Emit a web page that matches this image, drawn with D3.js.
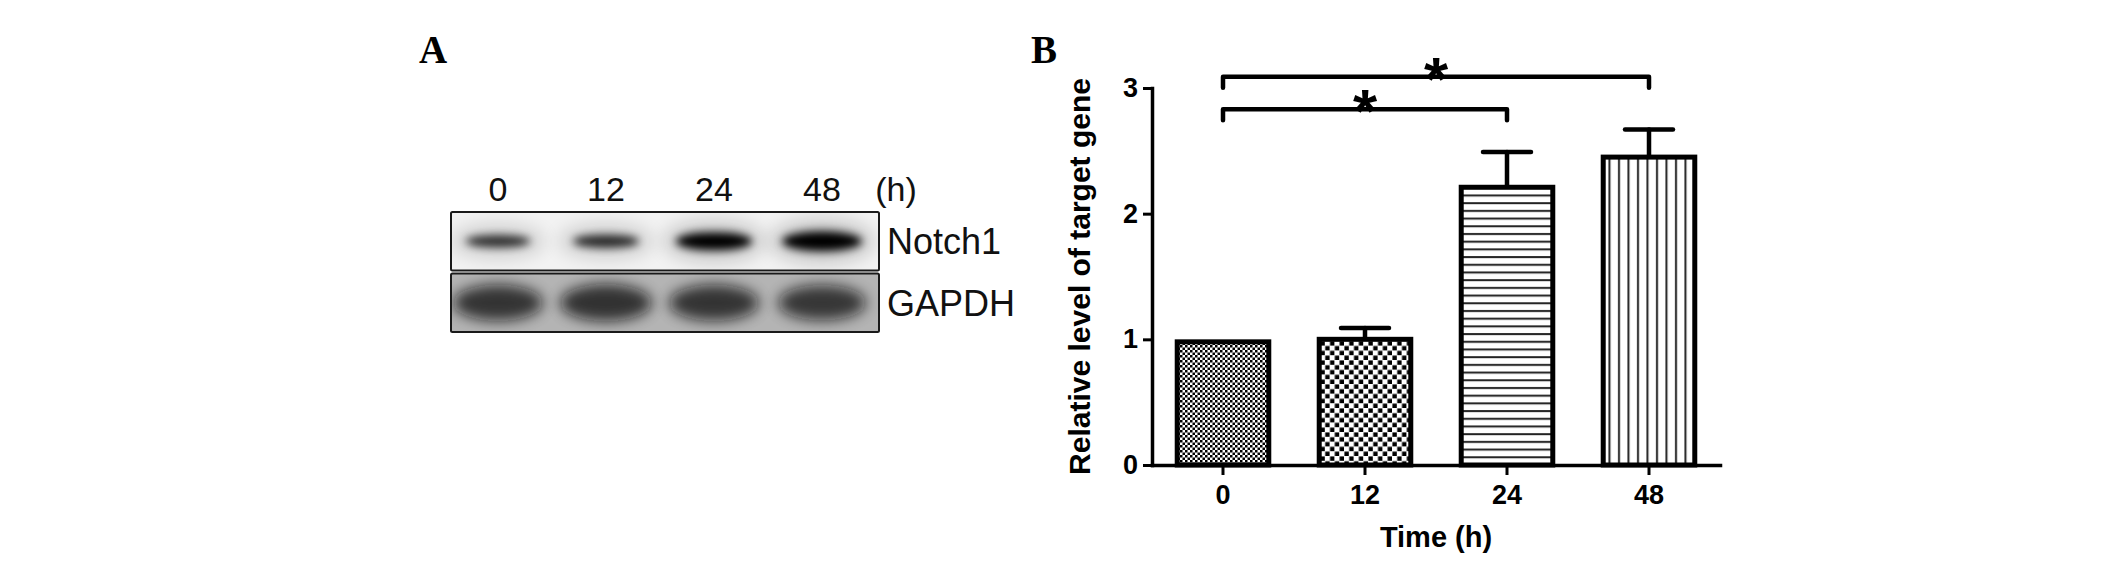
<!DOCTYPE html>
<html><head><meta charset="utf-8">
<script src="https://cdn.jsdelivr.net/npm/d3@7"></script>
<style>html,body{margin:0;padding:0;background:#fff}svg{display:block}</style>
</head><body>
<script>
// ---------- data ----------
const lanes = ["0", "12", "24", "48"];
const blotRows = ["Notch1", "GAPDH"];
const notch1Intensity = [0.58, 0.62, 0.9, 1.0];
const gapdhIntensity = [0.9, 0.92, 0.9, 0.88];

const timeCategories = ["0", "12", "24", "48"];
const relativeLevel = [1.0, 1.02, 2.23, 2.47];
const errorSD = [0, 0.07, 0.26, 0.20];
const yTicks = [0, 1, 2, 3];
const comparisons = [
  { from: "0", to: "24", level: 2.83, label: "*" },
  { from: "0", to: "48", level: 3.09, label: "*" }
];

// ---------- setup ----------
const W = 2126, H = 566;
const svg = d3.select("body").append("svg").attr("width", W).attr("height", H);
const defs = svg.append("defs");
const SANS = "'Liberation Sans', Arial, Helvetica, sans-serif";
const SERIF = "'Liberation Serif', 'Times New Roman', serif";

// panel letters
svg.append("text").attr("x", 419).attr("y", 63).text("A")
  .attr("font-family", SERIF).attr("font-weight", "bold").attr("font-size", 39);
svg.append("text").attr("x", 1031).attr("y", 63).text("B")
  .attr("font-family", SERIF).attr("font-weight", "bold").attr("font-size", 39);

// ---------- panel A : western blot ----------
const lane = d3.scalePoint().domain(lanes).range([498, 822]);
const rowY = d3.scaleBand().domain(blotRows).range([212, 332]).paddingInner(0.05);

defs.append("filter").attr("id", "blurS").attr("x", "-50%").attr("y", "-100%").attr("width", "200%").attr("height", "300%")
  .append("feGaussianBlur").attr("stdDeviation", 4);
defs.append("filter").attr("id", "blurM").attr("x", "-50%").attr("y", "-100%").attr("width", "200%").attr("height", "300%")
  .append("feGaussianBlur").attr("stdDeviation", 9);
defs.append("filter").attr("id", "blurL").attr("x", "-50%").attr("y", "-100%").attr("width", "200%").attr("height", "300%")
  .append("feGaussianBlur").attr("stdDeviation", 7);

const boxX = 451, boxW = 428;
blotRows.forEach((row, ri) => {
  const y0 = rowY(row), h = rowY.bandwidth();
  const cid = "clip" + ri;
  defs.append("clipPath").attr("id", cid).append("rect")
    .attr("x", boxX).attr("y", y0).attr("width", boxW).attr("height", h);
  const g = svg.append("g").attr("clip-path", `url(#${cid})`);
  g.append("rect").attr("x", boxX).attr("y", y0).attr("width", boxW).attr("height", h)
    .attr("fill", ri === 0 ? "#f2f2f2" : "#b4b4b4");
  const cy = y0 + h / 2;
  if (ri === 0) {
    g.selectAll("ellipse.haze").data(notch1Intensity).join("ellipse")
      .attr("cx", (d, i) => lane(lanes[i])).attr("cy", cy)
      .attr("rx", d => 40 + 12 * d).attr("ry", d => 10 + 12 * d)
      .attr("fill", "#000").attr("opacity", d => 0.08 + 0.1 * d)
      .attr("filter", "url(#blurM)");
    g.selectAll("ellipse.band").data(notch1Intensity).join("ellipse")
      .attr("cx", (d, i) => lane(lanes[i])).attr("cy", cy)
      .attr("rx", d => 22 + 18 * d).attr("ry", d => 1 + 9 * d)
      .attr("fill", "#000").attr("opacity", d => Math.min(1, 0.35 + 0.75 * d))
      .attr("filter", "url(#blurS)");
  } else {
    g.selectAll("ellipse.band").data(gapdhIntensity).join("ellipse")
      .attr("cx", (d, i) => lane(lanes[i])).attr("cy", cy)
      .attr("rx", d => 50 * d).attr("ry", d => 20 * d)
      .attr("fill", "#111").attr("opacity", d => 0.85 * d)
      .attr("filter", "url(#blurL)");
  }
  svg.append("rect").attr("x", boxX).attr("y", y0).attr("width", boxW).attr("height", h)
    .attr("fill", "none").attr("stroke", "#1a1a1a").attr("stroke-width", 2).attr("rx", 1.5);
  svg.append("text").attr("x", 887).attr("y", y0 + h / 2 + 13).text(row)
    .attr("font-family", SANS).attr("font-size", 36).attr("fill", "#111");
});

svg.selectAll("text.lane").data(lanes).join("text")
  .attr("x", d => lane(d)).attr("y", 201).attr("text-anchor", "middle")
  .attr("font-family", SANS).attr("font-size", 34).attr("fill", "#111").text(d => d);
svg.append("text").attr("x", 896).attr("y", 201).attr("text-anchor", "middle")
  .attr("font-family", SANS).attr("font-size", 34).attr("fill", "#111").text("(h)");

// ---------- panel B : bar chart ----------
const x = d3.scaleBand().domain(timeCategories).range([1152, 1720]).paddingInner(0.32).paddingOuter(0.16);
const y = d3.scaleLinear().domain([0, 3]).range([465, 88]);

// patterns
const p0 = defs.append("pattern").attr("id", "pat0").attr("patternUnits", "userSpaceOnUse").attr("width", 5).attr("height", 5);
p0.append("rect").attr("width", 5).attr("height", 5).attr("fill", "#fff");
p0.append("rect").attr("width", 2.5).attr("height", 2.5).attr("fill", "#000");
p0.append("rect").attr("x", 2.5).attr("y", 2.5).attr("width", 2.5).attr("height", 2.5).attr("fill", "#000");
const p1 = defs.append("pattern").attr("id", "pat1").attr("patternUnits", "userSpaceOnUse").attr("width", 9.6).attr("height", 9.6);
p1.append("rect").attr("width", 9.6).attr("height", 9.6).attr("fill", "#fff");
p1.append("rect").attr("x", 0.4).attr("y", 0.4).attr("width", 4.4).attr("height", 4.4).attr("fill", "#000");
p1.append("rect").attr("x", 5.2).attr("y", 5.2).attr("width", 4.4).attr("height", 4.4).attr("fill", "#000");
const p2 = defs.append("pattern").attr("id", "pat2").attr("patternUnits", "userSpaceOnUse").attr("width", 10).attr("height", 7.7);
p2.append("rect").attr("width", 10).attr("height", 7.7).attr("fill", "#fff");
p2.append("rect").attr("y", 2).attr("width", 10).attr("height", 2).attr("fill", "#222");
const p3 = defs.append("pattern").attr("id", "pat3").attr("patternUnits", "userSpaceOnUse").attr("width", 9.5).attr("height", 10);
p3.append("rect").attr("width", 9.5).attr("height", 10).attr("fill", "#fff");
p3.append("rect").attr("x", 3).attr("width", 2).attr("height", 10).attr("fill", "#222");

const bw = 5;
svg.append("g").selectAll("rect").data(timeCategories).join("rect")
  .attr("x", d => x(d) + bw / 2).attr("width", x.bandwidth() - bw)
  .attr("y", (d, i) => y(relativeLevel[i]) + bw / 2)
  .attr("height", (d, i) => y(0) - y(relativeLevel[i]) - bw / 2)
  .attr("fill", (d, i) => `url(#pat${i})`)
  .attr("stroke", "#000").attr("stroke-width", bw);

// error bars
const eg = svg.append("g").attr("stroke", "#000").attr("stroke-width", 4.5).attr("stroke-linecap", "round");
timeCategories.forEach((c, i) => {
  if (errorSD[i] <= 0) return;
  const cx = x(c) + x.bandwidth() / 2;
  eg.append("line").attr("x1", cx).attr("x2", cx).attr("y1", y(relativeLevel[i])).attr("y2", y(relativeLevel[i] + errorSD[i]));
  eg.append("line").attr("x1", cx - 24).attr("x2", cx + 24).attr("y1", y(relativeLevel[i] + errorSD[i])).attr("y2", y(relativeLevel[i] + errorSD[i]));
});

// axes
const yAxis = svg.append("g").attr("transform", "translate(1152,0)")
  .call(d3.axisLeft(y).tickValues(yTicks).tickFormat(d3.format("d")).tickSize(9).tickSizeOuter(0).tickPadding(5));
const xAxis = svg.append("g").attr("transform", "translate(0,465)")
  .call(d3.axisBottom(x).tickSize(10).tickSizeOuter(0).tickPadding(10));
[yAxis, xAxis].forEach(a => {
  a.select(".domain").attr("stroke", "#000").attr("stroke-width", 3.5).attr("stroke-linecap", "square");
  a.selectAll(".tick line").attr("stroke", "#000").attr("stroke-width", 3);
  a.selectAll(".tick text").attr("font-family", SANS).attr("font-weight", "bold").attr("font-size", 27).attr("fill", "#000");
});

// axis titles
svg.append("text").attr("transform", `translate(1090,${(y(0) + y(3)) / 2}) rotate(-90)`)
  .attr("text-anchor", "middle").attr("font-family", SANS).attr("font-weight", "bold").attr("font-size", 30)
  .text("Relative level of target gene");
svg.append("text").attr("x", (1152 + 1720) / 2).attr("y", 547).attr("text-anchor", "middle")
  .attr("font-family", SANS).attr("font-weight", "bold").attr("font-size", 29).text("Time (h)");

// significance brackets
const legLen = 11;
const bg = svg.append("g");
comparisons.forEach(c => {
  const x1 = x(c.from) + x.bandwidth() / 2, x2 = x(c.to) + x.bandwidth() / 2, ly = y(c.level);
  bg.append("path").attr("d", `M${x1},${ly + legLen}V${ly}H${x2}V${ly + legLen}`)
    .attr("fill", "none").attr("stroke", "#000").attr("stroke-width", 4.5).attr("stroke-linecap", "round").attr("stroke-linejoin", "round");
  bg.append("text").attr("x", (x1 + x2) / 2).attr("y", ly + 23).attr("text-anchor", "middle")
    .attr("font-family", SANS).attr("font-weight", "bold").attr("font-size", 62).text(c.label);
});
</script>
</body></html>
